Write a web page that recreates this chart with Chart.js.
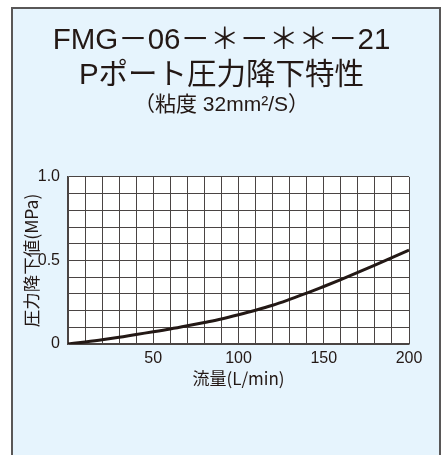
<!DOCTYPE html>
<html><head><meta charset="utf-8">
<script src="https://cdn.jsdelivr.net/npm/chart.js@4/dist/chart.umd.min.js"></script>
<style>
html,body{margin:0;padding:0;background:#fff;width:443px;height:455px;overflow:hidden}
#frame{position:absolute;left:11px;top:7px;width:430px;height:470px;background:#e6f4fd;border:2px solid #595757;box-sizing:border-box}
#wrap{position:absolute;left:0;top:0;width:443px;height:455px}
</style></head><body>
<div id="frame"></div>
<div id="wrap"><canvas id="c" width="443" height="455"></canvas></div>
<script>
// ---- data ----
const titleLines = ["FMG－06－＊－＊＊－21", "Pポート圧力降下特性"];
const subtitleText = "（粘度 32mm²/S）";
const xAxisTitle = "流量(L/min)";
const yAxisTitle = "圧力降下値(MPa)";
const flow = [0, 10, 20, 30, 40, 50, 60, 70, 80, 90, 100, 110, 120, 130, 140, 150, 160, 170, 180, 190, 200];
const pressureDrop = [0, 0.012, 0.025, 0.04, 0.057, 0.073, 0.09, 0.109, 0.129, 0.15, 0.175, 0.202, 0.232, 0.267, 0.304, 0.344, 0.385, 0.428, 0.472, 0.517, 0.562];
const xTickLabels = {50: "50", 100: "100", 150: "150", 200: "200"};
const yTickLabels = {0: "0", 5: "0.5", 10: "1.0"};

const INK = "#231815";
const GRID = "#4a4443";
const FONT = "'Liberation Sans', 'Noto Sans CJK JP', sans-serif";
const JFONT = "'Noto Sans CJK JP', 'Liberation Sans', sans-serif";

const plotBg = {
  id: 'plotBg',
  beforeDraw(chart) {
    const {ctx, chartArea: a} = chart;
    ctx.save();
    ctx.fillStyle = '#ffffff';
    ctx.fillRect(a.left, a.top, a.right - a.left, a.bottom - a.top);
    ctx.restore();
  }
};

new Chart(document.getElementById('c'), {
  type: 'line',
  data: {
    datasets: [{
      data: flow.map((x, i) => ({x, y: pressureDrop[i]})),
      borderColor: INK,
      borderWidth: 3,
      pointRadius: 0,
      cubicInterpolationMode: 'monotone',
      fill: false
    }]
  },
  options: {
    responsive: false,
    animation: false,
    events: [],
    layout: {padding: {left: 0, right: 0, top: 0, bottom: 66}},
    plugins: {
      legend: {display: false},
      tooltip: {enabled: false},
      title: {
        display: true, text: titleLines, color: INK,
        font: {family: FONT, size: 29.5, weight: 'normal', lineHeight: 1.2},
        padding: {top: 23, bottom: 0}
      },
      subtitle: {
        display: true, text: subtitleText, color: INK,
        font: {family: FONT, size: 21, weight: 'normal', lineHeight: 1.1},
        padding: {top: 0, bottom: 60}
      }
    },
    scales: {
      x: {
        type: 'linear', min: 0, max: 200,
        grid: {color: GRID, lineWidth: 1, drawTicks: false},
        border: {color: GRID, width: 1.5},
        ticks: {
          stepSize: 10, autoSkip: false, maxRotation: 0, padding: 5,
          color: INK, font: {family: FONT, size: 16},
          callback: v => xTickLabels[v] || ''
        },
        title: {display: true, text: xAxisTitle, color: INK,
          font: {family: JFONT, size: 17, lineHeight: 1.2}, padding: {top: 0, bottom: 0}},
        afterFit: s => { s.height = 45; }
      },
      y: {
        type: 'linear', min: 0, max: 1,
        grid: {color: GRID, lineWidth: 1, drawTicks: false},
        border: {color: GRID, width: 1.5},
        ticks: {
          stepSize: 0.1, autoSkip: false, padding: 8,
          color: INK, font: {family: FONT, size: 16},
          callback: v => yTickLabels[Math.round(v * 10)] || ''
        },
        title: {display: true, text: yAxisTitle, color: INK,
          font: {family: JFONT, size: 17.5, lineHeight: 1.2}, padding: {top: 21, bottom: 0}},
        afterFit: s => { s.width = 68; }
      },
      yRight: {
        type: 'linear', position: 'right', min: 0, max: 1,
        grid: {display: false}, border: {display: false},
        ticks: {display: false},
        afterFit: s => { s.width = 34; }
      }
    }
  },
  plugins: [plotBg]
});
</script>
</body></html>
